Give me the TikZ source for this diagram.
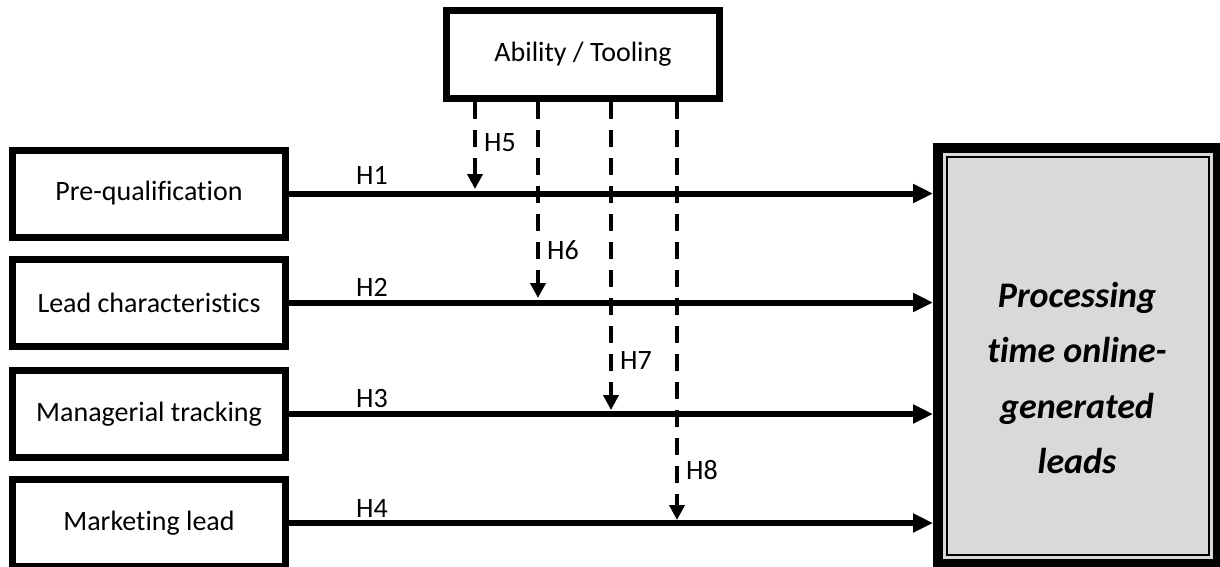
\documentclass[tikz,border=0pt]{standalone}
\usepackage{fontspec}
\setmainfont{Carlito}[Ligatures={NoCommon}]
\usetikzlibrary{arrows.meta}
\definecolor{boxgrey}{HTML}{D9D9D9}
\tikzset{
  factor/.style={draw, line width=7pt, minimum width=273pt, minimum height=87pt,
    inner sep=0pt, font=\fontsize{28}{33}\selectfont},
  harr/.style={line width=6pt, -{Triangle[length=20pt,width=18pt]}},
  darr/.style={line width=4.5pt, dash pattern=on 17pt off 11pt,
    -{Triangle[length=15pt,width=15pt]}},
  hyp/.style={font=\fontsize{28}{33}\selectfont, inner sep=0pt},
}
\begin{document}
\begin{tikzpicture}[x=1pt, y=-1pt]
\clip (0,0) rectangle (1220,566);
\fill[white] (0,0) rectangle (1220,566);

% moderator
\node[factor, minimum height=88pt] (tool) at (583,54.5) {Ability / Tooling};

% independent factors
\node[factor] (b1) at (149,193.5) {Pre-qualification};
\node[factor] (b2) at (149,302.5) {Lead characteristics};
\node[factor] (b3) at (149,414) {Managerial tracking};
\node[factor] (b4) at (149,523) {Marketing lead};

% outcome
\node[draw, line width=10pt, fill=boxgrey, minimum width=280pt, minimum height=416pt]
  (out) at (1078,356) {};
\draw[line width=1.5pt] ([shift={(14,14)}]out.north west) rectangle ([shift={(-14,-14)}]out.south east);
\node[align=center, inner sep=0pt,
  font=\fontsize{36}{55.5}\selectfont\bfseries\itshape] (outtxt) at (1077,378)
  {Processing\\time online-\\generated\\leads};

% direct effects
\draw[harr] (b1.east) -- (b1.east -| out.west);
\draw[harr] (b2.east) -- (b2.east -| out.west);
\draw[harr] (b3.east) -- (b3.east -| out.west);
\draw[harr] (b4.east) -- (b4.east -| out.west);

% moderating effects
\coordinate (m5) at (475,189);
\coordinate (m6) at (538,298);
\coordinate (m7) at (611,410);
\coordinate (m8) at (677,520);
\draw[darr] (tool.south -| m5) -- (m5);
\draw[darr] (tool.south -| m6) -- (m6);
\draw[darr] (tool.south -| m7) -- (m7);
\draw[darr] (tool.south -| m8) -- (m8);

% hypothesis labels
\node[hyp] (h1) at (372,175) {H1};
\node[hyp] (h2) at (372,287) {H2};
\node[hyp] (h3) at (372,398) {H3};
\node[hyp] (h4) at (372,508) {H4};
\node[hyp] (h5) at (500,143) {H5};
\node[hyp] (h6) at (563,250) {H6};
\node[hyp] (h7) at (636,361) {H7};
\node[hyp] (h8) at (702,470) {H8};
\end{tikzpicture}
\end{document}
